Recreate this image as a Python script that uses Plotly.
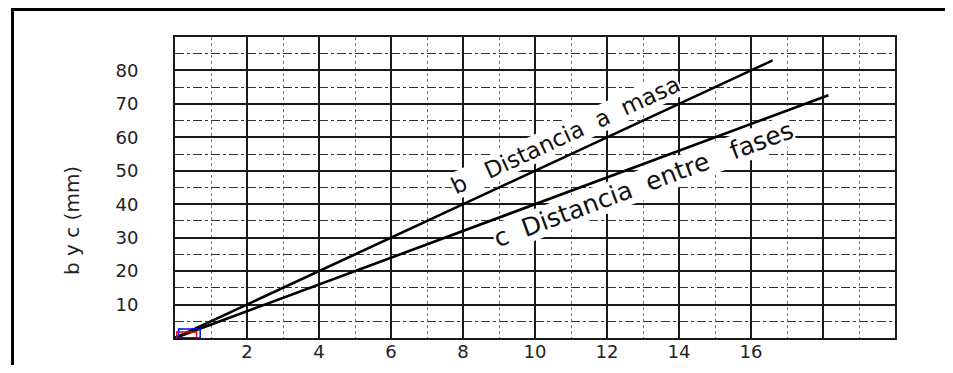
import plotly.graph_objects as go

# ---- data ----
b_x = [0, 16.6]
b_y = [0, 83]
c_x = [0, 18.15]
c_y = [0, 72.6]

x_tickvals = [0, 2, 4, 6, 8, 10, 12, 14, 16, 18, 20]
x_ticktext = ["", "2", "4", "6", "8", "10", "12", "14", "16", "", ""]
x_minorvals = [1, 3, 5, 7, 9, 11, 13, 15, 17, 19]
y_tickvals = [0, 10, 20, 30, 40, 50, 60, 70, 80, 90]
y_ticktext = ["", "10", "20", "30", "40", "50", "60", "70", "80", ""]
y_minorvals = [5, 15, 25, 35, 45, 55, 65, 75, 85]

NB = "\u00a0"
label_b = "b" + NB * 3 + "Distancia" + NB * 2 + "a" + NB * 2 + "masa"
label_c = "c" + NB * 2 + "Distancia" + NB * 2 + "entre" + NB * 3 + "fases"
y_title = "b y c (mm)"

# page body has an 8px margin on every side; make the figure fit the
# 953x373 window exactly and work in screen pixels (= figure pixels + 8)
OFF = 8
W, H = 953 - 2 * OFF, 373 - 2 * OFF
L, T = 175 - OFF, 37 - OFF
pw, ph = 720, 301
R, B = W - L - pw, H - T - ph

def px2paper_x(p):
    return (p - OFF - L) / pw

def px2paper_y(p):
    return (T + ph - (p - OFF)) / ph

FONT = "DejaVu Sans"

fig = go.Figure()
fig.add_trace(go.Scatter(x=b_x, y=b_y, mode="lines",
                         line=dict(color="black", width=2.6), showlegend=False))
fig.add_trace(go.Scatter(x=c_x, y=c_y, mode="lines",
                         line=dict(color="black", width=2.6), showlegend=False))

fig.update_layout(
    width=W, height=H,
    margin=dict(l=L, r=R, t=T, b=B, autoexpand=False),
    paper_bgcolor="white", plot_bgcolor="white",
    font=dict(family=FONT, color="#222", size=18),
    xaxis=dict(range=[0, 20], tickmode="array", tickvals=x_tickvals, ticktext=x_ticktext,
               automargin=False,
               showgrid=True, gridcolor="#1a1a1a", gridwidth=2,
               showline=True, linecolor="#1a1a1a", linewidth=2, mirror=True,
               ticks="", ticklen=0, ticklabelstandoff=-4, zeroline=False,
               tickfont=dict(family=FONT, size=18, color="#222"),
               minor=dict(tickmode="array", tickvals=x_minorvals, showgrid=True,
                          gridcolor="#777", gridwidth=1, griddash="dot", ticks="")),
    yaxis=dict(range=[0, 90], tickmode="array", tickvals=y_tickvals, ticktext=y_ticktext,
               automargin=False,
               showgrid=True, gridcolor="#1a1a1a", gridwidth=1.6,
               showline=True, linecolor="#1a1a1a", linewidth=2, mirror=True,
               ticks="", ticklen=0, ticklabelstandoff=31, zeroline=False,
               tickfont=dict(family=FONT, size=18, color="#222"),
               minor=dict(tickmode="array", tickvals=y_minorvals, showgrid=True,
                          gridcolor="#333", gridwidth=1.3, griddash="dashdot", ticks="")),
)

# outer frame
fig.add_shape(type="rect", xref="paper", yref="paper",
              x0=px2paper_x(12.5), x1=px2paper_x(990),
              y0=px2paper_y(400), y1=px2paper_y(9.5),
              line=dict(color="black", width=3), layer="above")

# small marks near origin
fig.add_shape(type="rect", xref="x", yref="y", x0=0.05, x1=0.6, y0=0, y1=1.8,
              line=dict(color="red", width=1.5), layer="above")
fig.add_shape(type="rect", xref="x", yref="y", x0=0.1, x1=0.7, y0=0, y1=2.7,
              line=dict(color="blue", width=1.5), layer="above")

# line labels
fig.add_annotation(x=10.85, y=60.6, xref="x", yref="y", text=label_b, showarrow=False,
                   textangle=-24.9, font=dict(family=FONT, size=23, color="#111"),
                   bgcolor="white", borderpad=0)
fig.add_annotation(x=13.0, y=45.8, xref="x", yref="y", text=label_c, showarrow=False,
                   textangle=-20.4, font=dict(family=FONT, size=25, color="#111"),
                   bgcolor="white", borderpad=0)

# y-axis title
fig.add_annotation(x=px2paper_x(58), y=px2paper_y(221), xref="paper", yref="paper",
                   text=y_title, showarrow=False, textangle=-90,
                   font=dict(family=FONT, size=20, color="#222"))

fig.write_html("out.html")
